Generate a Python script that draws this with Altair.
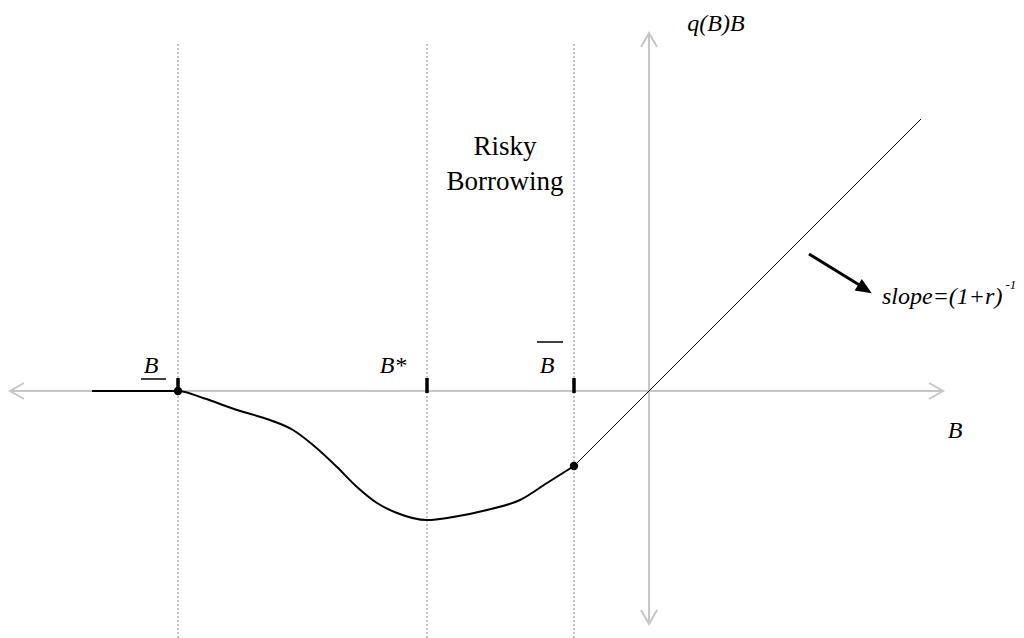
import altair as alt
import pandas as pd

# ---- data (units: origin at the axes crossing) ----
flat_x = [-5.57, -4.71]
flat_y = [0.0, 0.0]
curve_x = [-4.46, -4.12, -3.79, -3.56, -3.36, -3.12, -2.92, -2.72, -2.52, -2.22,
           -1.96, -1.62, -1.29, -1.02, -0.75]
curve_y = [-0.07, -0.19, -0.29, -0.39, -0.54, -0.76, -0.96, -1.12, -1.22, -1.29,
           -1.26, -1.19, -1.09, -0.92, -0.75]
safe_x = [-0.75, 2.72]
safe_y = [-0.75, 2.72]

thresholds = [-4.71, -2.22, -0.75]          # B_, B*, B-bar
dot_x = [-4.71, -0.75]
dot_y = [0.0, -0.75]

axis_h_x = [-6.39, 2.94]
axis_v_y = [-2.33, 3.58]

# chevron arrowheads: (arm, tip, arm)
chev_x = [[-6.25, -6.39, -6.25], [2.80, 2.94, 2.80], [-0.08, 0.0, 0.08], [-0.08, 0.0, 0.08]]
chev_y = [[0.08, 0.0, -0.08], [0.08, 0.0, -0.08], [3.44, 3.58, 3.44], [-2.19, -2.33, -2.19]]

label_txt = ["B", "B*", "B"]
label_x = [-4.98, -2.56, -1.02]
label_y = [0.25, 0.25, 0.25]
bar_x = [-5.08, -1.12]
bar_x2 = [-4.83, -0.86]
bar_y = [0.12, 0.49]

risky_txt = ["Risky", "Borrowing"]
risky_x = [-1.44, -1.44]
risky_y = [2.44, 2.09]

axis_lbl_txt = ["q(B)B", "B"]
axis_lbl_x = [0.67, 3.06]
axis_lbl_y = [3.67, -0.40]

slope_txt = "slope=(1+r)"
slope_sup = "-1"
slope_pos = (2.33, 0.94)
slope_sup_pos = (3.565, 1.06)

arrow_x = [1.60, 2.12]
arrow_y = [1.37, 1.05]
arrow_head = (2.16, 1.02)

# ---- scales ----
xs = alt.Scale(domain=[-6.41, 3.67], nice=False, zero=False)
ys = alt.Scale(domain=[-2.47, 3.83], nice=False, zero=False)
FONT = "Liberation Serif"


def X(f="x"):
    return alt.X(f"{f}:Q", scale=xs, axis=None)


def Y(f="y"):
    return alt.Y(f"{f}:Q", scale=ys, axis=None)


GRAY = "#c6c6c6"

# gray axes
axes_df = pd.DataFrame({
    "x": [axis_h_x[0], axis_h_x[1], 0.0, 0.0],
    "y": [0.0, 0.0, axis_v_y[0], axis_v_y[1]],
    "g": ["h", "h", "v", "v"],
    "o": [0, 1, 0, 1],
})
axes = alt.Chart(axes_df).mark_line(color=GRAY, strokeWidth=2).encode(
    x=X(), y=Y(), detail="g:N", order="o:Q")

rows = []
for i, (cx, cy) in enumerate(zip(chev_x, chev_y)):
    for j, (a, b) in enumerate(zip(cx, cy)):
        rows.append({"x": a, "y": b, "g": i, "o": j})
chev = alt.Chart(pd.DataFrame(rows)).mark_line(color=GRAY, strokeWidth=2).encode(
    x=X(), y=Y(), detail="g:N", order="o:Q")

# dotted verticals
vdf = pd.DataFrame({"x": thresholds, "y": [-2.47] * 3, "y2": [3.49] * 3})
vlines = alt.Chart(vdf).mark_rule(color="#8a8a8a", strokeWidth=1, strokeDash=[2, 2]).encode(
    x=X(), y=Y(), y2="y2:Q")

# tick marks
tdf = pd.DataFrame({"x": thresholds, "y": [-0.02] * 3, "y2": [0.13] * 3})
ticks = alt.Chart(tdf).mark_rule(color="black", strokeWidth=3.5).encode(
    x=X(), y=Y(), y2="y2:Q")

# main curve
cdf = pd.DataFrame({"x": flat_x + curve_x, "y": flat_y + curve_y})
curve = alt.Chart(cdf).mark_line(color="black", strokeWidth=2, interpolate="monotone").encode(
    x=X(), y=Y())

sdf = pd.DataFrame({"x": safe_x, "y": safe_y})
safe = alt.Chart(sdf).mark_line(color="black", strokeWidth=1).encode(x=X(), y=Y())

ddf = pd.DataFrame({"x": dot_x, "y": dot_y})
dots = alt.Chart(ddf).mark_circle(color="black", size=70, opacity=1).encode(x=X(), y=Y())

# labels
ldf = pd.DataFrame({"x": label_x, "y": label_y, "t": label_txt})
labels = alt.Chart(ldf).mark_text(font=FONT, fontSize=24, fontStyle="italic",
                                  color="black").encode(x=X(), y=Y(), text="t:N")
bdf = pd.DataFrame({"x": bar_x, "x2": bar_x2, "y": bar_y})
bars = alt.Chart(bdf).mark_rule(color="black", strokeWidth=1.5).encode(
    x=X(), x2="x2:Q", y=Y())

rdf = pd.DataFrame({"x": risky_x, "y": risky_y, "t": risky_txt})
risky = alt.Chart(rdf).mark_text(font=FONT, fontSize=27, color="black").encode(
    x=X(), y=Y(), text="t:N")

adf = pd.DataFrame({"x": axis_lbl_x, "y": axis_lbl_y, "t": axis_lbl_txt})
axlabels = alt.Chart(adf).mark_text(font=FONT, fontSize=24, fontStyle="italic",
                                    color="black").encode(x=X(), y=Y(), text="t:N")

s1 = pd.DataFrame({"x": [slope_pos[0]], "y": [slope_pos[1]], "t": [slope_txt]})
slope = alt.Chart(s1).mark_text(font=FONT, fontSize=24, fontStyle="italic", align="left",
                                color="black").encode(x=X(), y=Y(), text="t:N")
s2 = pd.DataFrame({"x": [slope_sup_pos[0]], "y": [slope_sup_pos[1]], "t": [slope_sup]})
sup = alt.Chart(s2).mark_text(font=FONT, fontSize=13, fontStyle="italic", align="left",
                              color="black").encode(x=X(), y=Y(), text="t:N")

ardf = pd.DataFrame({"x": arrow_x, "y": arrow_y})
arrow = alt.Chart(ardf).mark_line(color="black", strokeWidth=3).encode(x=X(), y=Y())
hdf = pd.DataFrame({"x": [arrow_head[0]], "y": [arrow_head[1]]})
head = alt.Chart(hdf).mark_point(shape="M1,0L-1,-0.85L-1,0.85Z", filled=True, color="black",
                                 size=256, angle=32, opacity=1).encode(x=X(), y=Y())

chart = alt.layer(vlines, axes, chev, safe, curve, ticks, dots, bars, labels, risky,
                  axlabels, slope, sup, arrow, head).properties(
    width=1008, height=630, padding=0, autosize=alt.AutoSizeParams(type="none"),
    background="white"
).configure_view(stroke=None)

chart.save("out.html", embed_options={"renderer": "svg", "actions": False})
